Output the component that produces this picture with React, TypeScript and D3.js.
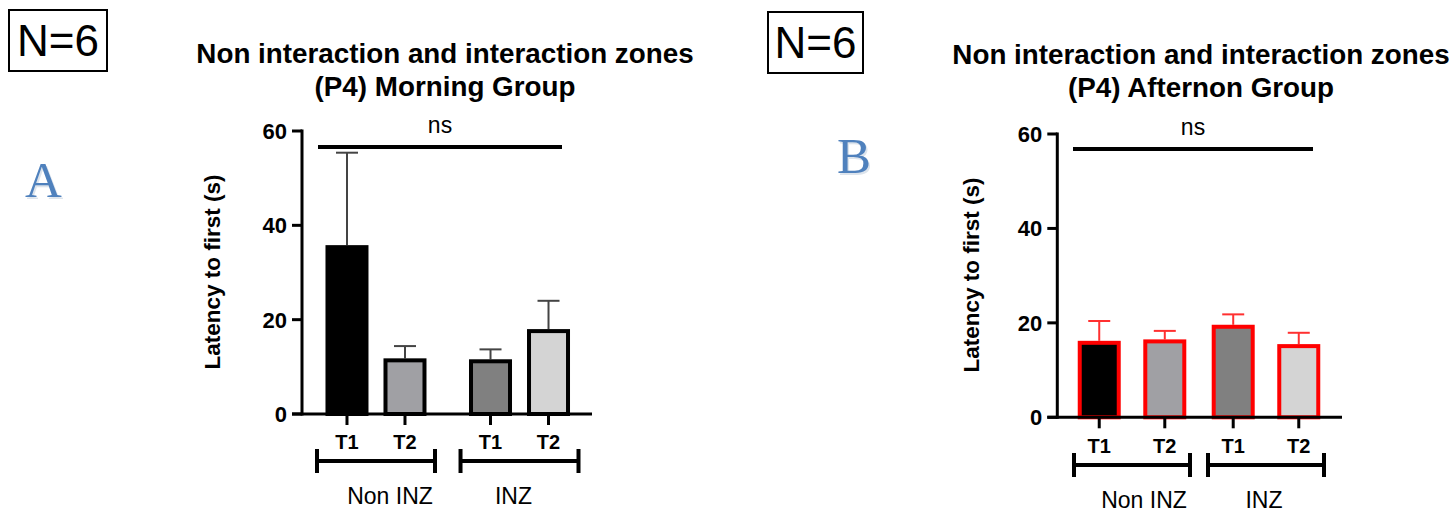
import React from "react";
import * as d3 from "d3";

// data
const groups = ["Non INZ", "INZ"];
const times = ["T1", "T2"];
const fills = ["#000000", "#a0a0a4", "#808080", "#d4d4d4"];
const morningMean = [35.8, 11.8, 11.6, 18.0];
const morningErr = [55.4, 14.4, 13.7, 24.0];
const afternoonMean = [16.2, 16.5, 19.6, 15.5];
const afternoonErr = [20.4, 18.3, 21.8, 17.9];
const yTicks = [0, 20, 40, 60];

const FONT = '"Liberation Sans", Arial, sans-serif';

type Panel = {
  title: string[];
  titleX: number;
  titleY: number;
  mean: number[];
  err: number[];
  stroke: string;
  errColor: string;
  xRange: [number, number];
  padInner: number;
  padPoint: number;
  y0: number;
  y60: number;
  axisLeft: number;
  axisRight: number;
  labelX: number;
  labelY: number;
  nsY: number;
  nsX: [number, number];
  nsTextX: number;
  tLabelY: number;
  bracketY: number;
  groupLabelY: number;
  groupLabelDx: number[];
};

const panels: Panel[] = [
  {
    title: ["Non interaction and interaction zones", "(P4) Morning Group"],
    titleX: 445, titleY: 63,
    mean: morningMean, err: morningErr,
    stroke: "#000", errColor: "#444",
    xRange: [317, 578.5], padInner: 0.178, padPoint: 0.517,
    y0: 414, y60: 131, axisLeft: 302, axisRight: 592,
    labelX: 220, labelY: 272,
    nsY: 56.6, nsX: [318, 562], nsTextX: 440,
    tLabelY: 449, bracketY: 461, groupLabelY: 504,
    groupLabelDx: [14, -6],
  },
  {
    title: ["Non interaction and interaction zones", "(P4) Afternon Group"],
    titleX: 1201, titleY: 64,
    mean: afternoonMean, err: afternoonErr,
    stroke: "#ff0000", errColor: "#ff3030",
    xRange: [1074, 1324], padInner: 0.134, padPoint: 0.385,
    y0: 417.3, y60: 134, axisLeft: 1057.3, axisRight: 1342,
    labelX: 979, labelY: 275,
    nsY: 56.8, nsX: [1073, 1313], nsTextX: 1193,
    tLabelY: 453, bracketY: 465, groupLabelY: 508,
    groupLabelDx: [12, -2],
  },
];

const App = () => {
  const ref = React.useRef<SVGSVGElement>(null);

  React.useEffect(() => {
    const svg = d3.select(ref.current);
    svg.selectAll("*").remove();

    // N=6 boxes
    [[9, 10, 98, 61], [768, 12, 95, 61]].forEach(([x, y, w, h]) => {
      svg.append("rect")
        .attr("x", x).attr("y", y).attr("width", w).attr("height", h)
        .attr("fill", "none").attr("stroke", "#000").attr("stroke-width", 2);
      svg.append("text")
        .attr("x", x + w / 2).attr("y", y + 46)
        .attr("text-anchor", "middle")
        .style("font-family", FONT).style("font-size", "44px")
        .text("N=6");
    });

    // panel letters
    [["A", 43.5, 197], ["B", 854, 173]].forEach(([t, x, y]) => {
      svg.append("text")
        .attr("x", (x as number) + 1.5).attr("y", (y as number) + 2)
        .attr("text-anchor", "middle")
        .style("font-family", '"Liberation Serif", serif').style("font-size", "51px")
        .attr("fill", "#c8d3e0").attr("opacity", 0.6)
        .text(t as string);
      svg.append("text")
        .attr("x", x as number).attr("y", y as number)
        .attr("text-anchor", "middle")
        .style("font-family", '"Liberation Serif", serif').style("font-size", "51px")
        .attr("fill", "#4f81bd")
        .text(t as string);
    });

    panels.forEach((p) => {
      const g = svg.append("g");

      //title
      p.title.forEach((line, i) => {
        g.append("text")
          .attr("x", p.titleX).attr("y", p.titleY + i * 33)
          .attr("text-anchor", "middle")
          .style("font-family", FONT).style("font-size", "27.8px").style("font-weight", "bold")
          .text(line);
      });

      const y = d3.scaleLinear().domain([0, 60]).range([p.y0, p.y60]);
      const xg = d3.scaleBand().domain(groups).range(p.xRange).paddingInner(p.padInner).paddingOuter(0);
      const xt = d3.scalePoint().domain(times).range([0, xg.bandwidth()]).padding(p.padPoint);

      const cats = groups.flatMap((gr) => times.map((t) => ({ gr, t })));
      const cx = (i: number) => (xg(cats[i].gr) as number) + (xt(cats[i].t) as number);
      const barW = 39;

      // error bars (upper only)
      p.mean.forEach((m, i) => {
        g.append("line")
          .attr("x1", cx(i)).attr("x2", cx(i))
          .attr("y1", y(m)).attr("y2", y(p.err[i]))
          .attr("stroke", p.errColor).attr("stroke-width", 2);
        g.append("line")
          .attr("x1", cx(i) - 11).attr("x2", cx(i) + 11)
          .attr("y1", y(p.err[i])).attr("y2", y(p.err[i]))
          .attr("stroke", p.errColor).attr("stroke-width", 2);
      });

      // bars
      p.mean.forEach((m, i) => {
        g.append("rect")
          .attr("x", cx(i) - barW / 2)
          .attr("y", y(m) + 2)
          .attr("width", barW)
          .attr("height", y(0) - y(m) - 2)
          .attr("fill", fills[i])
          .attr("stroke", p.stroke)
          .attr("stroke-width", 4);
      });

      // y axis
      g.append("line")
        .attr("x1", p.axisLeft).attr("x2", p.axisLeft)
        .attr("y1", y(60) - 1.5).attr("y2", y(0) + 1.5)
        .attr("stroke", "#000").attr("stroke-width", 3);
      yTicks.forEach((t) => {
        g.append("line")
          .attr("x1", p.axisLeft - 10).attr("x2", p.axisLeft)
          .attr("y1", y(t)).attr("y2", y(t))
          .attr("stroke", "#000").attr("stroke-width", 3);
        g.append("text")
          .attr("x", p.axisLeft - 15).attr("y", y(t) + 8)
          .attr("text-anchor", "end")
          .style("font-family", FONT).style("font-size", "22px").style("font-weight", "bold")
          .text(t);
      });
      // x axis
      g.append("line")
        .attr("x1", p.axisLeft - 10).attr("x2", p.axisRight)
        .attr("y1", y(0)).attr("y2", y(0))
        .attr("stroke", "#000").attr("stroke-width", 3);
      cats.forEach((c, i) => {
        g.append("line")
          .attr("x1", cx(i)).attr("x2", cx(i))
          .attr("y1", y(0)).attr("y2", y(0) + 11)
          .attr("stroke", "#000").attr("stroke-width", 3);
        g.append("text")
          .attr("x", cx(i)).attr("y", p.tLabelY)
          .attr("text-anchor", "middle")
          .style("font-family", FONT).style("font-size", "20px").style("font-weight", "bold")
          .text(c.t);
      });

      // y label
      g.append("text")
        .attr("transform", `translate(${p.labelX},${p.labelY}) rotate(-90)`)
        .attr("text-anchor", "middle")
        .style("font-family", FONT).style("font-size", "22.5px").style("font-weight", "bold")
        .text("Latency to first (s)");

      // ns
      g.append("line")
        .attr("x1", p.nsX[0]).attr("x2", p.nsX[1])
        .attr("y1", y(p.nsY)).attr("y2", y(p.nsY))
        .attr("stroke", "#000").attr("stroke-width", 4);
      g.append("text")
        .attr("x", p.nsTextX).attr("y", y(p.nsY) - 14)
        .attr("text-anchor", "middle")
        .style("font-family", FONT).style("font-size", "23px")
        .text("ns");

      // group brackets
      groups.forEach((gr, i) => {
        const x0 = xg(gr) as number;
        const x1 = x0 + xg.bandwidth();
        g.append("line")
          .attr("x1", x0).attr("x2", x1)
          .attr("y1", p.bracketY).attr("y2", p.bracketY)
          .attr("stroke", "#000").attr("stroke-width", 4);
        [x0, x1].forEach((xx) => {
          g.append("line")
            .attr("x1", xx).attr("x2", xx)
            .attr("y1", p.bracketY - 12).attr("y2", p.bracketY + 12)
            .attr("stroke", "#000").attr("stroke-width", 4);
        });
        g.append("text")
          .attr("x", (x0 + x1) / 2 + p.groupLabelDx[i]).attr("y", p.groupLabelY)
          .attr("text-anchor", "middle")
          .style("font-family", FONT).style("font-size", "23px")
          .text(gr);
      });
    });
  }, []);

  return (
    <svg
      ref={ref}
      width={1455}
      height={513}
      style={{ position: "absolute", left: 0, top: 0, background: "#fff" }}
    />
  );
};

export default App;
